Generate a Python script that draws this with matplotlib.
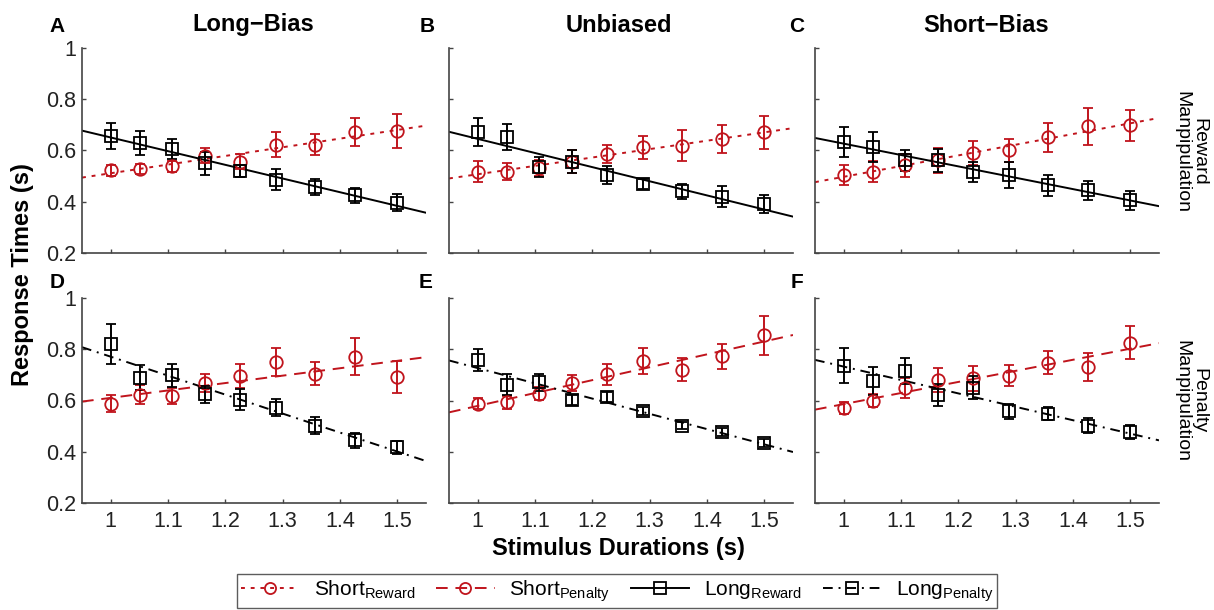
import numpy as np
import matplotlib
matplotlib.use("Agg")
import matplotlib.pyplot as plt
from matplotlib.lines import Line2D

plt.rcParams['font.family'] = ['Liberation Sans', 'DejaVu Sans']
plt.rcParams['mathtext.fontset'] = 'custom'
plt.rcParams['mathtext.rm'] = 'Liberation Sans'
plt.rcParams['mathtext.it'] = 'Liberation Sans:italic'
plt.rcParams['mathtext.bf'] = 'Liberation Sans:bold'

# ---------------- data ----------------
durations = [1.000, 1.052, 1.107, 1.164, 1.225, 1.289, 1.356, 1.426, 1.500]
col_titles = ["Long\u2212Bias", "Unbiased", "Short\u2212Bias"]
panel_letters = ["A", "B", "C", "D", "E", "F"]
row_labels = ["Reward\nManpipulation", "Penalty\nManpipulation"]
x_ticks = [1, 1.1, 1.2, 1.3, 1.4, 1.5]
x_ticklabels = ["1", "1.1", "1.2", "1.3", "1.4", "1.5"]
y_ticks = [0.2, 0.4, 0.6, 0.8, 1.0]
y_ticklabels = ["0.2", "0.4", "0.6", "0.8", "1"]

# Reward manipulation (top row): Long-Bias, Unbiased, Short-Bias
short_reward = [
    [0.522, 0.527, 0.538, 0.580, 0.557, 0.623, 0.623, 0.671, 0.676],
    [0.518, 0.518, 0.531, 0.557, 0.587, 0.613, 0.619, 0.645, 0.671],
    [0.505, 0.518, 0.542, 0.561, 0.591, 0.600, 0.651, 0.695, 0.698],
]
short_reward_err = [
    [0.020, 0.020, 0.020, 0.030, 0.030, 0.050, 0.040, 0.055, 0.065],
    [0.040, 0.033, 0.030, 0.045, 0.035, 0.045, 0.060, 0.055, 0.065],
    [0.040, 0.040, 0.045, 0.048, 0.047, 0.045, 0.058, 0.072, 0.060],
]
long_reward = [
    [0.656, 0.629, 0.606, 0.550, 0.520, 0.486, 0.457, 0.425, 0.397],
    [0.671, 0.652, 0.535, 0.557, 0.503, 0.470, 0.440, 0.420, 0.392],
    [0.632, 0.613, 0.561, 0.561, 0.516, 0.505, 0.464, 0.444, 0.405],
]
long_reward_err = [
    [0.052, 0.047, 0.040, 0.045, 0.025, 0.040, 0.030, 0.030, 0.035],
    [0.055, 0.050, 0.040, 0.045, 0.035, 0.020, 0.030, 0.040, 0.035],
    [0.058, 0.058, 0.040, 0.045, 0.040, 0.050, 0.040, 0.037, 0.037],
]
# Penalty manipulation (bottom row)
short_penalty = [
    [0.587, 0.623, 0.617, 0.669, 0.694, 0.750, 0.704, 0.770, 0.691],
    [0.587, 0.593, 0.626, 0.668, 0.702, 0.753, 0.720, 0.772, 0.855],
    [0.572, 0.600, 0.649, 0.680, 0.687, 0.697, 0.748, 0.731, 0.826],
]
short_penalty_err = [
    [0.033, 0.037, 0.030, 0.034, 0.047, 0.055, 0.045, 0.072, 0.063],
    [0.022, 0.026, 0.025, 0.030, 0.040, 0.050, 0.045, 0.050, 0.076],
    [0.023, 0.026, 0.040, 0.048, 0.048, 0.040, 0.045, 0.055, 0.065],
]
long_penalty = [
    [0.820, 0.689, 0.698, 0.624, 0.603, 0.572, 0.502, 0.444, 0.418],
    [0.758, 0.662, 0.671, 0.603, 0.613, 0.558, 0.502, 0.476, 0.434],
    [0.736, 0.676, 0.714, 0.623, 0.649, 0.558, 0.548, 0.502, 0.476],
]
long_penalty_err = [
    [0.078, 0.049, 0.045, 0.033, 0.040, 0.033, 0.033, 0.030, 0.025],
    [0.042, 0.040, 0.033, 0.020, 0.020, 0.015, 0.015, 0.015, 0.015],
    [0.068, 0.055, 0.050, 0.043, 0.045, 0.030, 0.026, 0.030, 0.027],
]

RED = '#c0141c'
BLACK = '#000000'
XLIM = (0.95, 1.55)
YLIM = (0.2, 1.0)

styles = {
    'short_reward': dict(color=RED, marker='o', dashes=(2, 3)),
    'short_penalty': dict(color=RED, marker='o', dashes=(6, 4)),
    'long_reward': dict(color=BLACK, marker='s', dashes=None),
    'long_penalty': dict(color=BLACK, marker='s', dashes=(5, 3, 1, 3)),
}

W, H = 1214, 610
fig = plt.figure(figsize=(W / 100, H / 100), dpi=100)

col_lefts = [82, 449, 815]
ax_w = 344
row_tops = [48, 298]
ax_h = 205

def draw_series(ax, y, err, key):
    st = styles[key]
    x = np.array(durations)
    y = np.array(y)
    coef = np.polyfit(x, y, 1)
    xx = np.array(XLIM)
    ln, = ax.plot(xx, np.polyval(coef, xx), color=st['color'], lw=1.4, zorder=2)
    if st['dashes'] is not None:
        ln.set_dashes(st['dashes'])
    ax.errorbar(x, y, yerr=err, fmt=st['marker'], color=st['color'],
                mfc='none', mec=st['color'], ms=9, mew=1.3,
                elinewidth=1.4, capsize=3.5, capthick=1.4, zorder=3)

axes = []
for r in range(2):
    for c in range(3):
        left = col_lefts[c] / W
        bottom = 1 - (row_tops[r] + ax_h) / H
        ax = fig.add_axes([left, bottom, ax_w / W, ax_h / H])
        axes.append(ax)
        if r == 0:
            draw_series(ax, short_reward[c], short_reward_err[c], 'short_reward')
            draw_series(ax, long_reward[c], long_reward_err[c], 'long_reward')
        else:
            draw_series(ax, short_penalty[c], short_penalty_err[c], 'short_penalty')
            draw_series(ax, long_penalty[c], long_penalty_err[c], 'long_penalty')
        ax.set_xlim(*XLIM)
        ax.set_ylim(*YLIM)
        ax.set_xticks(x_ticks)
        ax.set_yticks(y_ticks)
        if r == 1:
            ax.set_xticklabels(x_ticklabels)
        else:
            ax.set_xticklabels([])
        if c == 0:
            ax.set_yticklabels(y_ticklabels)
        else:
            ax.set_yticklabels([])
        for s in ['top', 'right']:
            ax.spines[s].set_visible(False)
        for s in ['left', 'bottom']:
            ax.spines[s].set_color('#444444')
            ax.spines[s].set_linewidth(1.2)
        ax.tick_params(direction='in', length=3, width=1, color='#444444',
                       labelsize=15.5, labelcolor='#222222')
        ax.tick_params(axis='y', pad=4)
        ax.tick_params(axis='x', pad=6)

# panel letters
letter_pos = [(57, 27), (427, 27), (797, 27), (57, 282), (426, 283), (797, 283)]
for L, (px, py) in zip(panel_letters, letter_pos):
    fig.text(px / W, 1 - py / H, L, ha='center', va='center',
             fontsize=15, fontweight='bold')

# column titles
title_x = [253, 619, 986]
for t, px in zip(col_titles, title_x):
    fig.text(px / W, 1 - 25 / H, t, ha='center', va='center',
             fontsize=17, fontweight='bold')

# row labels
for lab, py in zip(row_labels, [152, 401]):
    fig.text(1190 / W, 1 - py / H, lab, ha='center', va='center',
             rotation=-90, fontsize=14, linespacing=1.0)

fig.text(23 / W, 1 - 275 / H, "Response Times (s)", ha='center', va='center',
         rotation=90, fontsize=17, fontweight='bold')
fig.text(618 / W, 1 - 548 / H, "Stimulus Durations (s)", ha='center', va='center',
         fontsize=17, fontweight='bold')

# legend
handles = []
labels = [r'Short$_{\rm Reward}$', r'Short$_{\rm Penalty}$',
          r'Long$_{\rm Reward}$', r'Long$_{\rm Penalty}$']
for key in ['short_reward', 'short_penalty', 'long_reward', 'long_penalty']:
    st = styles[key]
    h = Line2D([], [], color=st['color'], marker=st['marker'], mfc='none',
               mec=st['color'], ms=8, mew=1.3, lw=1.4)
    if st['dashes'] is not None:
        h.set_dashes(st['dashes'])
    handles.append(h)
leg = fig.legend(handles, labels, loc='center', ncol=4,
                 bbox_to_anchor=(617 / W, 1 - 591 / H), frameon=True,
                 fancybox=False, fontsize=15, handlelength=2.8,
                 columnspacing=1.0, handletextpad=0.7, borderpad=0.2)
leg.get_frame().set_edgecolor('#333333')
leg.get_frame().set_linewidth(1.0)

fig.savefig('out.png', dpi=100)
